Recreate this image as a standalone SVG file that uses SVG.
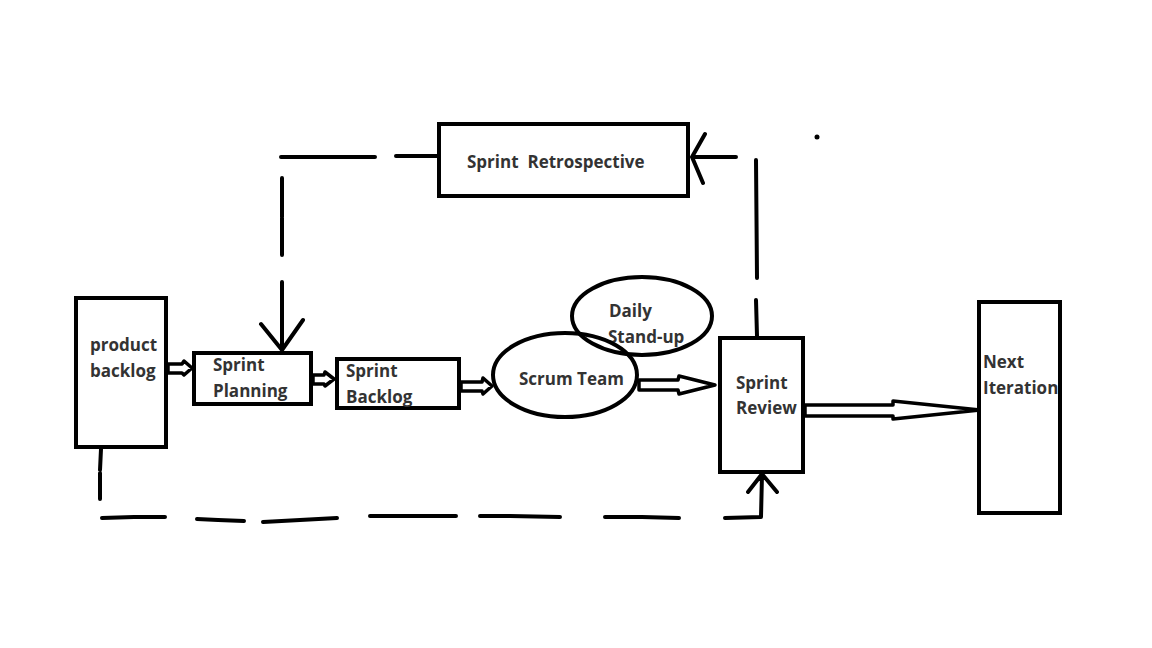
<svg xmlns="http://www.w3.org/2000/svg" width="1152" height="648" viewBox="0 0 1152 648">
<style>
.box{fill:#fff;stroke:#000;stroke-width:4}
.ell{fill:none;stroke:#000;stroke-width:4}
.t{font-family:"Open Sans","Liberation Sans",sans-serif;font-weight:700;font-size:17px;fill:#333}
.d{fill:none;stroke:#000;stroke-width:4;stroke-linecap:round;stroke-linejoin:round}
.h{fill:#fff;stroke:#000;stroke-width:3.5;stroke-linejoin:round}
</style>
<rect width="1152" height="648" fill="#fff"/>
<g id="connectors">
<path class="d" d="M437 156 L396 156 M375 157 L281 157 M282 178 L282 217 M282 218 L282 255 M282 282 L282 350 M261 324 L282 350 L303 320"/>
<path class="d" d="M757 336 L756 300 M757 278 L756 160 M736 157 L692 157 M705 134 L692 157 L703 183"/>
<circle cx="817" cy="137" r="2.5" fill="#000"/>
<path class="d" d="M101 449 L100 470 M100 473 L100 499 M102 518 L134 517 L165 517 M197 519 L218 520 L244 521 M263 522 L300 520 L337 518 M370 516 L456 516 M480 516 L510 516 L560 517 M605 517 L642 517 L679 518 M725 518 L761 517 L762 474 M748 492 L762 474 L777 492"/>
<path class="h" d="M168 364 L182 364 L184 361 L192 368 L184 375 L182 373 L168 373 Z"/>
<path class="h" d="M313 375 L324 375 L325 372 L334 379 L325 386 L324 384 L313 384 Z"/>
<path class="h" d="M461 382 L482 382 L483 378 L492 386 L483 394 L482 391 L461 391 Z"/>
<path class="h" d="M639 380 L678 380 L679 376 L715 385 L679 394 L678 390 L639 390 Z"/>
<path class="h" d="M805 405 L893 405 L893 401 L980 410 L893 419 L893 416 L805 416 Z"/>
</g>
<g id="product-backlog">
<rect class="box" x="76" y="298" width="90" height="149"/>
<text class="t" x="90" y="351">product</text>
<text class="t" x="90" y="377">backlog</text>
</g>
<g id="sprint-planning">
<rect class="box" x="194" y="353" width="117" height="51"/>
<text class="t" x="213" y="371">Sprint</text>
<text class="t" x="213" y="397">Planning</text>
</g>
<g id="sprint-backlog">
<rect class="box" x="337" y="359" width="122" height="49"/>
<text class="t" x="346" y="377">Sprint</text>
<text class="t" x="346" y="403">Backlog</text>
</g>
<g id="daily-standup">
<ellipse class="ell" cx="642" cy="316" rx="70" ry="39"/>
<text class="t" x="609" y="317">Daily</text>
<text class="t" x="608" y="343">Stand-up</text>
</g>
<g id="scrum-team">
<ellipse class="ell" cx="565" cy="375" rx="72" ry="42"/>
<text class="t" x="519" y="385">Scrum Team</text>
</g>
<g id="sprint-review">
<rect class="box" x="720" y="338" width="83" height="134"/>
<text class="t" x="736" y="389">Sprint</text>
<text class="t" x="736" y="414">Review</text>
</g>
<g id="next-iteration">
<rect class="box" x="979" y="302" width="81" height="211"/>
<text class="t" x="983" y="368">Next</text>
<text class="t" x="983" y="394">Iteration</text>
</g>
<g id="sprint-retrospective">
<rect class="box" x="439" y="124" width="249" height="72"/>
<text class="t" x="467" y="168" xml:space="preserve">Sprint  Retrospective</text>
</g>
</svg>
